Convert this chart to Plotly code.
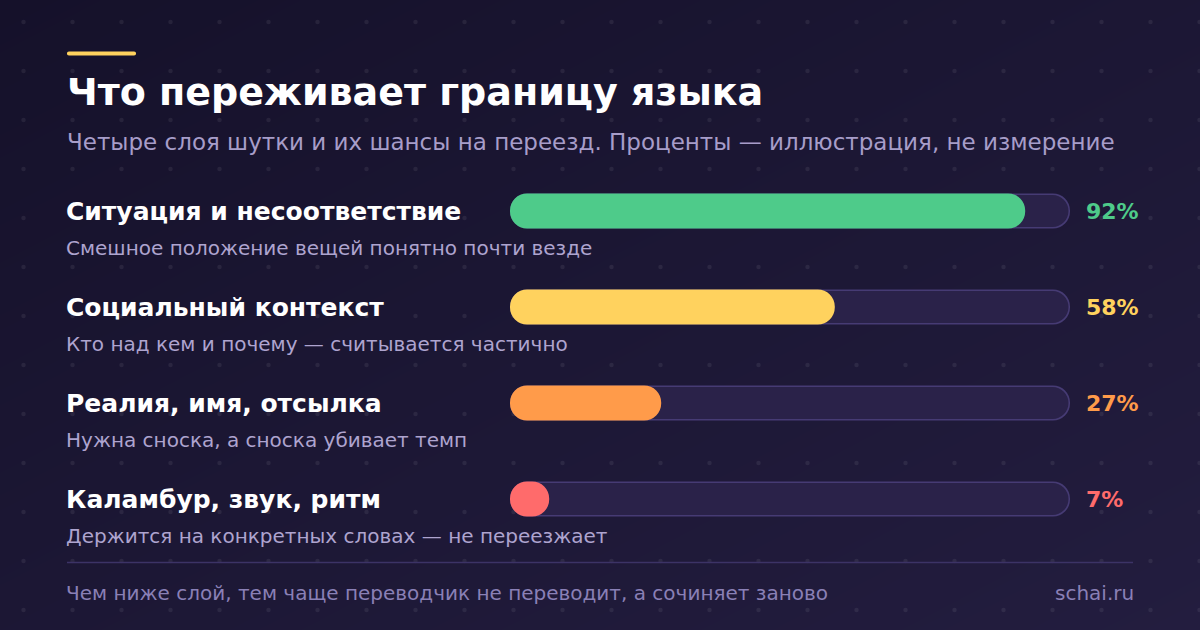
import plotly.graph_objects as go

# data
layers = ["Ситуация и несоответствие", "Социальный контекст", "Реалия, имя, отсылка", "Каламбур, звук, ритм"]
notes = ["Смешное положение вещей понятно почти везде",
         "Кто над кем и почему — считывается частично",
         "Нужна сноска, а сноска убивает темп",
         "Держится на конкретных словах — не переезжает"]
chances = [92, 58, 27, 7]
colors = ["#4ecb8a", "#ffd25e", "#ff9b4a", "#ff6b6b"]

title = "Что переживает границу языка"
subtitle = "Четыре слоя шутки и их шансы на переезд. Проценты — иллюстрация, не измерение"
footer = "Чем ниже слой, тем чаще переводчик не переводит, а сочиняет заново"
site = "schai.ru"

W, H = 1200, 630
FONT = "DejaVu Sans"
PITCH = 96          # px per row
BAR_W = 35 / PITCH  # bar thickness in category units
IN_W = 32 / PITCH
INSET = 1.5 / 5.6   # 1.5px in % units (560px track)

fig = go.Figure()

# background gradient
fig.add_trace(go.Heatmap(z=[[0, 0.5], [0.5, 1]], x=[0, W], y=[0, H], zsmooth="best",
                         colorscale=[[0, "#15112a"], [1, "#231d3f"]], showscale=False,
                         hoverinfo="skip", xaxis="x", yaxis="y"))

# dot pattern
dx, dy = [], []
for i in range(25):
    for j in range(13):
        dx.append(23.5 + 49 * i)
        dy.append(22 + 49 * j)
fig.add_trace(go.Scatter(x=dx, y=dy, mode="markers", hoverinfo="skip",
                         marker=dict(size=4.5, color="rgba(255,255,255,0.07)"),
                         xaxis="x", yaxis="y", showlegend=False))


def pill(lo, hi, width, color):
    # with an explicit base plotly rounds both ends -> capsule
    fig.add_trace(go.Bar(y=layers, base=lo, x=[b - a for a, b in zip(lo, hi)],
                         orientation="h", width=width,
                         marker=dict(color=color, line=dict(width=0), cornerradius="50%"),
                         xaxis="x2", yaxis="y2", hoverinfo="skip", showlegend=False))


n = len(layers)
pill([0.0001] * n, [100] * n, BAR_W, "#463b74")                 # track outline
pill([INSET] * n, [100 - INSET] * n, IN_W, "#2a2249")           # track fill
pill([0.0001] * n, chances, BAR_W, colors)                      # value

ann = []
ann.append(dict(x=65, y=92, text="<b>" + title + "</b>", font=dict(size=38, color="#ffffff")))
ann.append(dict(x=65, y=142, text=subtitle, font=dict(size=23, color="#a79dc9")))
for k, (lab, note, v, c) in enumerate(zip(layers, notes, chances, colors)):
    yc = 211 + PITCH * k
    ann.append(dict(x=64, y=yc, text="<b>" + lab + "</b>", font=dict(size=25, color="#ffffff")))
    ann.append(dict(x=64, y=yc + 37, text=note, font=dict(size=20, color="#aea4cf")))
    ann.append(dict(x=1084, y=yc, text="<b>%d%%</b>" % v, font=dict(size=22, color=c)))
ann.append(dict(x=64, y=593, text=footer, font=dict(size=20, color="#8a80b6")))
ann.append(dict(x=1136, y=593, text=site, xanchor="right", font=dict(size=20, color="#8a80b6")))
for a in ann:
    a.setdefault("xanchor", "left")
    a.update(xref="x", yref="y", yanchor="middle", showarrow=False)
    a["font"]["family"] = FONT

shapes = [
    dict(type="path", xref="x", yref="y", fillcolor="#ffd25e", line=dict(width=0),
         path="M 69 51.5 L 134 51.5 C 135.4 51.5 136 52.3 136 53.5 C 136 54.7 135.4 55.5 134 55.5 "
              "L 69 55.5 C 67.6 55.5 67 54.7 67 53.5 C 67 52.3 67.6 51.5 69 51.5 Z"),
    dict(type="line", x0=67, x1=1133, y0=562.5, y1=562.5, xref="x", yref="y",
         line=dict(color="#3c3366", width=1.5)),
]

top = 163
bottom = top + PITCH * 4
fig.update_layout(
    width=W, height=H, autosize=False,
    margin=dict(l=0, r=0, t=0, b=0),
    paper_bgcolor="#1b1633", plot_bgcolor="rgba(0,0,0,0)",
    barmode="overlay",
    xaxis=dict(range=[0, W], visible=False, domain=[0, 1], fixedrange=True),
    yaxis=dict(range=[H, 0], visible=False, domain=[0, 1], fixedrange=True),
    xaxis2=dict(range=[0, 100], visible=False, domain=[510 / W, 1070 / W], anchor="y2", fixedrange=True),
    yaxis2=dict(visible=False, domain=[(H - bottom) / H, (H - top) / H], anchor="x2", fixedrange=True,
                categoryorder="array", categoryarray=layers[::-1]),
    annotations=ann, shapes=shapes, showlegend=False,
)

fig.write_html("out.html", config={"displayModeBar": False},
               post_script="document.body.style.margin='0';document.body.style.overflow='hidden';")
